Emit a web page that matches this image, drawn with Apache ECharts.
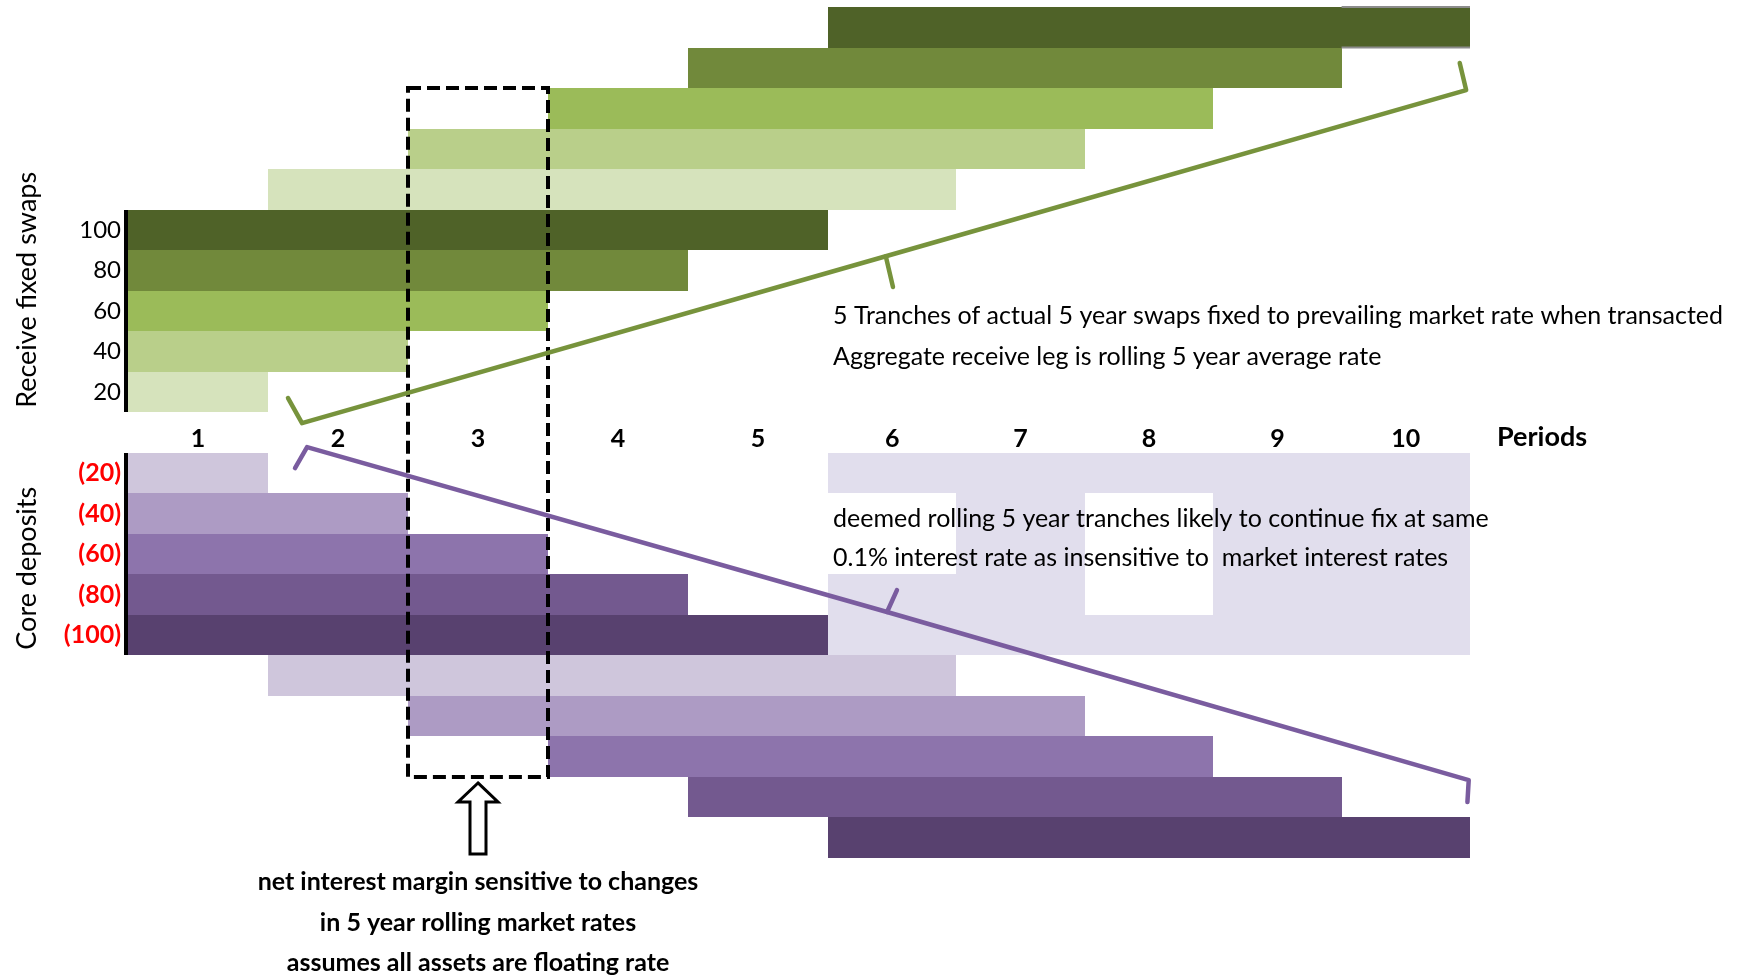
<!DOCTYPE html>
<html>
<head>
<meta charset="utf-8">
<script src="https://cdn.jsdelivr.net/npm/echarts@6/dist/echarts.min.js"></script>
<style>
  html, body { margin: 0; padding: 0; background: #fff; }
  #main { width: 1747px; height: 976px; }
</style>
</head>
<body>
<div id="main"></div>
<script>
// period columns and row labels
var periods = ['1', '2', '3', '4', '5', '6', '7', '8', '9', '10'];
var swapLabels = ['20', '40', '60', '80', '100'];
var depositLabels = ['(20)', '(40)', '(60)', '(80)', '(100)'];

// tranches: [first period, last period, stack level, tranche]
var swapBars = [
  [1, 1, 1, 0], [1, 2, 2, 1], [1, 3, 3, 2], [1, 4, 4, 3], [1, 5, 5, 4],
  [2, 6, 6, 0], [3, 7, 7, 1], [4, 8, 8, 2], [5, 9, 9, 3], [6, 10, 10, 4]
];
var depositBars = [
  [1, 1, 1, 0], [1, 2, 2, 1], [1, 3, 3, 2], [1, 4, 4, 3], [1, 5, 5, 4],
  [2, 6, 6, 0], [3, 7, 7, 1], [4, 8, 8, 2], [5, 9, 9, 3], [6, 10, 10, 4]
];
// deemed roll-over of deposits: [first period, last period, level]
var depositRollover = [
  [6, 10, 1], [7, 7, 2], [9, 10, 2], [7, 7, 3], [9, 10, 3],
  [6, 7, 4], [9, 10, 4], [6, 10, 5]
];

var greens = ['#d6e3bc', '#b9cf8a', '#9bbb59', '#71893b', '#4f6228'];
var purples = ['#cfc6dc', '#ad9bc4', '#8d74ac', '#73598f', '#58416f'];
var lavender = '#e1deed';
var FONT = 'Lato';

// 21 rows: swaps levels 10..1, the period row, deposits levels 1..10
var rowNames = [];
var rowLabels = [];
for (var r = 0; r < 21; r++) {
  rowNames.push('r' + r);
  if (r >= 5 && r <= 9) rowLabels.push(swapLabels[9 - r]);
  else if (r >= 11 && r <= 15) rowLabels.push(depositLabels[r - 11]);
  else rowLabels.push('');
}
var PERIOD_ROW = 10;

var swapData = swapBars.map(function (b) {
  return { value: [b[0] - 1, b[1], PERIOD_ROW - b[2]], itemStyle: { color: greens[b[3]] } };
});
var depositData = depositBars.map(function (b) {
  return { value: [b[0] - 1, b[1], PERIOD_ROW + b[2]], itemStyle: { color: purples[b[3]] } };
});
var rolloverData = depositRollover.map(function (b) {
  return { value: [b[0] - 1, b[1], PERIOD_ROW + b[2]], itemStyle: { color: lavender } };
});
var periodData = periods.map(function (p, i) { return [i + 0.5, PERIOD_ROW, p]; });
var axisRows = [];
swapLabels.forEach(function (l, i) { axisRows.push([0, PERIOD_ROW - 1 - i]); });
depositLabels.forEach(function (l, i) { axisRows.push([0, PERIOD_ROW + 1 + i]); });

function renderSpan(params, api) {
  var cs = params.coordSys;
  var a = api.coord([api.value(0), api.value(2)]);
  var b = api.coord([api.value(1), api.value(2)]);
  var h = api.size([0, 1])[1];
  var x0 = Math.round(Math.max(a[0], cs.x));
  var x1 = Math.round(Math.min(b[0], cs.x + cs.width));
  if (x1 - x0 < 1) return;
  var y0 = Math.round(a[1] - h / 2), y1 = Math.round(a[1] + h / 2);
  return {
    type: 'rect',
    shape: { x: x0, y: y0, width: x1 - x0, height: y1 - y0 },
    style: { fill: api.visual('color') }
  };
}

function renderPeriod(params, api) {
  var cs = params.coordSys;
  var c = api.coord([api.value(0), api.value(1)]);
  if (c[0] < cs.x || c[0] > cs.x + cs.width) return;
  return {
    type: 'text',
    style: {
      text: periods[params.dataIndex], x: c[0], y: c[1] + 6,
      textAlign: 'center', textVerticalAlign: 'middle',
      font: 'bold 25px ' + FONT, fill: '#000'
    }
  };
}

function renderAxisBar(params, api) {
  var cs = params.coordSys;
  var c = api.coord([0, api.value(1)]);
  var h = api.size([0, 1])[1];
  var y0 = Math.round(c[1] - h / 2), y1 = Math.round(c[1] + h / 2);
  return {
    type: 'rect',
    shape: { x: cs.x - 4, y: y0, width: 4, height: y1 - y0 },
    style: { fill: '#000' }
  };
}

var myChart = echarts.init(document.getElementById('main'));

function spanSeries(data, idx) {
  return {
    type: 'custom', xAxisIndex: idx, yAxisIndex: idx,
    renderItem: renderSpan, data: data, encode: { x: [0, 1], y: 2 }, z: 2
  };
}

var option = {
  animation: false,
  backgroundColor: '#fff',
  grid: [
    { left: 128, top: 7, width: 700, height: 851 },
    { left: 828, top: 7, width: 642, height: 851 }
  ],
  xAxis: [
    { type: 'value', gridIndex: 0, min: 0, max: 5, show: false },
    { type: 'value', gridIndex: 1, min: 5, max: 10, show: false }
  ],
  yAxis: [
    {
      type: 'category', gridIndex: 0, data: rowNames, inverse: true,
      axisLine: { show: false }, axisTick: { show: false }, splitLine: { show: false },
      axisLabel: {
        interval: 0, margin: 7, fontFamily: FONT, fontSize: 24, color: '#000',
        // red bold labels for the deposit side
        formatter: function (v) {
          var idx = rowNames.indexOf(v);
          if (idx > PERIOD_ROW && rowLabels[idx]) return '{red|' + rowLabels[idx] + '}';
          return rowLabels[idx];
        },
        rich: {
          red: { color: '#ff0000', fontWeight: 'bold', fontFamily: FONT, fontSize: 25 }
        }
      }
    },
    { type: 'category', gridIndex: 1, data: rowNames, inverse: true, show: false }
  ],
  series: [
    spanSeries(swapData, 0), spanSeries(swapData, 1),
    spanSeries(depositData, 0), spanSeries(depositData, 1),
    spanSeries(rolloverData, 1),
    { type: 'custom', xAxisIndex: 0, yAxisIndex: 0, renderItem: renderPeriod, data: periodData, z: 3 },
    { type: 'custom', xAxisIndex: 1, yAxisIndex: 1, renderItem: renderPeriod, data: periodData, z: 3 },
    { type: 'custom', xAxisIndex: 0, yAxisIndex: 0, renderItem: renderAxisBar, data: axisRows, z: 3 }
  ]
};

myChart.setOption(option);

// period edge p (0..10), row position r (0 = top of chart rows)
function pt(p, r) {
  var g = p <= 5 ? 0 : 1;
  var a = myChart.convertToPixel({ gridIndex: g }, [p, 0]);
  var b = myChart.convertToPixel({ gridIndex: g }, [p, 1]);
  return [a[0], a[1] + (b[1] - a[1]) * (r - 0.5)];
}

function label(text, p, r, dx, opts) {
  var c = pt(p, r);
  return {
    type: 'text', z: 100,
    style: {
      text: text, x: c[0] + dx, y: c[1],
      textAlign: (opts && opts.align) || 'left', textVerticalAlign: 'middle',
      font: ((opts && opts.bold) ? 'bold ' : '') + ((opts && opts.size) || 25) + 'px ' + FONT,
      fill: '#000'
    }
  };
}

var box0 = pt(2, 2), box1 = pt(3, 19);
var ax = pt(2.5, 19)[0], ay = box1[1] + 6;

var graphics = [
  {
    type: 'rect', z: 100,
    shape: { x: box0[0], y: box0[1], width: box1[0] - box0[0], height: box1[1] - box0[1] },
    style: { fill: null, stroke: '#000', lineWidth: 4, lineDash: [13, 6] }
  },
  {
    type: 'polygon', z: 100,
    shape: { points: [[ax, ay], [ax + 20, ay + 19], [ax + 8, ay + 19], [ax + 8, ay + 71],
      [ax - 8, ay + 71], [ax - 8, ay + 19], [ax - 20, ay + 19]] },
    style: { fill: '#fff', stroke: '#000', lineWidth: 3 }
  },
  {
    type: 'polyline', z: 100,
    shape: { points: [pt(1.143, 9.65), pt(1.243, 10.27), pt(5.45, 6.15), pt(9.97, 2.05), pt(9.92, 1.38)] },
    style: { stroke: '#77933c', lineWidth: 4.5, lineJoin: 'round', lineCap: 'round', fill: null }
  },
  {
    type: 'polyline', z: 100,
    shape: { points: [pt(5.45, 6.15), pt(5.506, 6.91)] },
    style: { stroke: '#77933c', lineWidth: 4.5, lineCap: 'round', fill: null }
  },
  {
    type: 'polyline', z: 100,
    shape: { points: [pt(1.193, 11.38), pt(1.279, 10.86), pt(5.46, 14.93), pt(9.99, 19.08), pt(9.98, 19.62)] },
    style: { stroke: '#7a5c9f', lineWidth: 4.5, lineJoin: 'round', lineCap: 'round', fill: null }
  },
  {
    type: 'polyline', z: 100,
    shape: { points: [pt(5.46, 14.93), pt(5.537, 14.39)] },
    style: { stroke: '#7a5c9f', lineWidth: 4.5, lineCap: 'round', fill: null }
  },
  {
    type: 'polyline', z: 100,
    shape: { points: [pt(9, 0), pt(10, 0)] },
    style: { stroke: '#8c8c8c', lineWidth: 2, fill: null }
  },
  {
    type: 'polyline', z: 100,
    shape: { points: [pt(9, 1), pt(10, 1)] },
    style: { stroke: '#8c8c8c', lineWidth: 2, fill: null }
  },
  label('5 Tranches of actual 5 year swaps fixed to prevailing market rate when transacted', 5, 7.63, 5),
  label('Aggregate receive leg is rolling 5 year average rate', 5, 8.64, 5),
  label('deemed rolling 5 year tranches likely to continue fix at same', 5, 12.64, 5),
  label('0.1% interest rate as insensitive to  market interest rates', 5, 13.6, 5),
  label('net interest margin sensitive to changes', 2.5, 21.6, 0, { align: 'center', bold: true, size: 25 }),
  label('in 5 year rolling market rates', 2.5, 22.6, 0, { align: 'center', bold: true, size: 25 }),
  label('assumes all assets are floating rate', 2.5, 23.6, 0, { align: 'center', bold: true, size: 25 }),
  label('Periods', 10, 10.62, 27, { bold: true, size: 27 })
];

var t1 = pt(0, 6.98), t2 = pt(0, 13.85);
graphics.push({
  type: 'text', z: 100, x: t1[0] - 101, y: t1[1], rotation: Math.PI / 2,
  style: { text: 'Receive fixed swaps', x: 0, y: 0, textAlign: 'center', textVerticalAlign: 'middle', font: '27px ' + FONT, fill: '#000' }
});
graphics.push({
  type: 'text', z: 100, x: t2[0] - 101, y: t2[1], rotation: Math.PI / 2,
  style: { text: 'Core deposits', x: 0, y: 0, textAlign: 'center', textVerticalAlign: 'middle', font: '27px ' + FONT, fill: '#000' }
});

myChart.setOption({ graphic: graphics });
</script>
</body>
</html>
